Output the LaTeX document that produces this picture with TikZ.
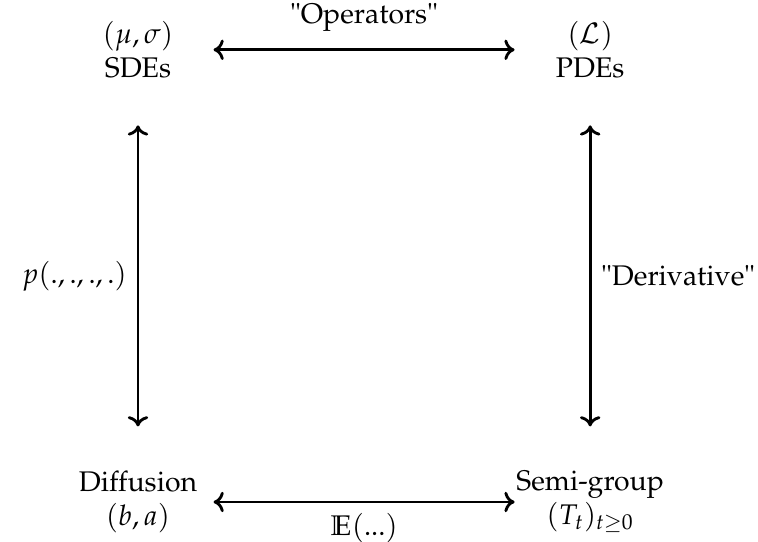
\documentclass[tikz,border=0pt]{standalone}
\usepackage[T1]{fontenc}
\usepackage{mathpazo}
\usepackage{tikz}
\usetikzlibrary{arrows.meta}

\begin{document}
\begin{tikzpicture}[>={To[length=4.5pt,width=9pt]}, line width=1.25pt,
    every node/.style={font=\fontsize{12.5}{15}\selectfont, align=center}]
  \useasboundingbox (-2.136,-0.604) rectangle (9.598,7.771);

  % Corners
  \node (sde) at (0,7) {$(\mu,\sigma)$\\SDEs};
  \node (pde) at (7,7) {$(\mathcal{L})$\\PDEs};
  \node (diff) at (0,0) {Diffusion\\$(b,a)$};
  \node (semi) at (7,0) {Semi-group\\$(T_t)_{t\geq0}$};

  % Top and bottom
  \draw[<->, shorten <=1.17cm, shorten >=1.17cm] (sde.center) -- (pde.center)
    node[midway, above=4pt] {"Operators"};
  \draw[<->, shorten <=1.17cm, shorten >=1.17cm] (diff.center) -- (semi.center)
    node[midway, below=1pt] {$\mathbb{E}(...)$};

  % Sides
  \draw[<->, shorten <=1.17cm, shorten >=1.17cm] (sde.center) -- (diff.center)
    node[midway, left=1pt] {$p(.,.,.,.)$};
  \draw[<->, shorten <=1.17cm, shorten >=1.17cm] (pde.center) -- (semi.center)
    node[midway, right=1pt] {"Derivative"};

\end{tikzpicture}
\end{document}
